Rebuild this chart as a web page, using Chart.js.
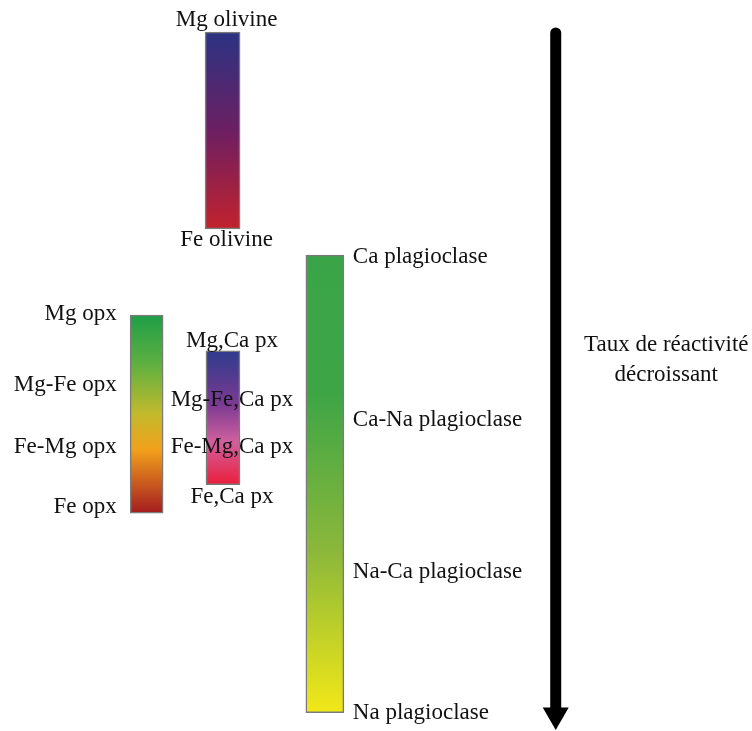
<!DOCTYPE html>
<html>
<head>
<meta charset="utf-8">
<script src="https://cdn.jsdelivr.net/npm/chart.js@4.4.1/dist/chart.umd.min.js"></script>
<style>
    html, body { margin: 0; padding: 0; background: #ffffff; }
    #wrap { position: relative; width: 752px; height: 731px; }
</style>
</head>
<body>
<div id="wrap"><canvas id="bowenChart"></canvas></div>
<script>
// position across the page (0-100) and reactivity range (0 = most reactive, 100 = least)
const columns = { opx: 19.5, olivine: 29.6, cpx: 29.65, plagioclase: 43.2, arrow: 73.9, note: 88.6 };

const olivineRange = [4.4, 31.3];
const opxRange = [43.1, 70.2];
const cpxRange = [48.0, 66.3];
const plagioclaseRange = [34.9, 97.5];
const arrowRange = [4.5, 97.8];

const olivineLabels = ["Mg olivine", "Fe olivine"];
const olivineLabelPos = [2.7, 32.8];

const opxLabels = ["Mg opx", "Mg-Fe opx", "Fe-Mg opx", "Fe opx"];
const opxLabelPos = [43.0, 52.7, 61.1, 69.4];

const cpxLabels = ["Mg,Ca px", "Mg-Fe,Ca px", "Fe-Mg,Ca px", "Fe,Ca px"];
const cpxLabelPos = [46.7, 54.7, 61.1, 68.0];

const plagioclaseLabels = ["Ca plagioclase", "Ca-Na plagioclase", "Na-Ca plagioclase", "Na plagioclase"];
const plagioclaseLabelPos = [35.2, 57.4, 78.3, 97.5];

const noteLines = ["Taux de réactivité", "décroissant"];
const noteLinePos = [47.2, 51.3];

// gradient stops, top to bottom
const olivineColors = [[0, "#2b3383"], [0.5, "#6c1f62"], [1, "#c2222d"]];
const opxColors = [[0, "#1e9e48"], [0.25, "#5fb040"], [0.5, "#c3ba2c"], [0.68, "#f2a01c"], [1, "#a41c20"]];
const cpxColors = [[0, "#2e3b8c"], [0.4, "#7b3a92"], [0.68, "#d0609e"], [1, "#ec1e3c"]];
const plagioclaseColors = [[0, "#3aa548"], [0.3, "#3da546"], [0.65, "#8cb83a"], [1, "#f2e818"]];

const FONT = "23px 'Liberation Serif', 'Times New Roman', serif";

function gradientFill(stops) {
    return (context) => {
        const chart = context.chart;
        if (!chart.chartArea) {
            return stops[0][1];
        }
        const raw = context.raw;
        const y = chart.scales.y;
        const top = y.getPixelForValue(raw.y[0]);
        const bottom = y.getPixelForValue(raw.y[1]);
        const g = chart.ctx.createLinearGradient(0, top, 0, bottom);
        stops.forEach((s) => g.addColorStop(s[0], s[1]));
        return g;
    };
}

function mineralBar(x, range, stops, thickness) {
    return {
        type: "bar",
        data: [{ x: x, y: range }],
        backgroundColor: gradientFill(stops),
        borderColor: "#7a7a7a",
        borderWidth: 1.5,
        borderSkipped: false,
        barThickness: thickness,
        grouped: false
    };
}

const labelPlugin = {
    id: "mineralLabels",
    afterDatasetsDraw(chart) {
        const ctx = chart.ctx;
        const xs = chart.scales.x;
        const ys = chart.scales.y;

        const groups = [
            { texts: olivineLabels, pos: olivineLabelPos, x: columns.olivine, dx: 4, align: "center" },
            { texts: opxLabels, pos: opxLabelPos, x: columns.opx, dx: -30, align: "right" },
            { texts: cpxLabels, pos: cpxLabelPos, x: columns.cpx, dx: 9, align: "center" },
            { texts: plagioclaseLabels, pos: plagioclaseLabelPos, x: columns.plagioclase, dx: 28, align: "left" },
            { texts: noteLines, pos: noteLinePos, x: columns.note, dx: 0, align: "center" }
        ];

        ctx.save();
        ctx.font = FONT;
        ctx.fillStyle = "#111111";
        ctx.textBaseline = "middle";

        groups.forEach((group) => {
            ctx.textAlign = group.align;
            group.texts.forEach((text, i) => {
                const px = xs.getPixelForValue(group.x) + group.dx;
                const py = ys.getPixelForValue(group.pos[i]);
                ctx.fillText(text, px, py);
            });
        });

        ctx.restore();
    }
};

const ctx = document.getElementById("bowenChart").getContext("2d");

new Chart(ctx, {
    type: "bar",
    data: {
        datasets: [
            mineralBar(columns.olivine, olivineRange, olivineColors, 35),
            mineralBar(columns.opx, opxRange, opxColors, 33),
            mineralBar(columns.cpx, cpxRange, cpxColors, 34),
            mineralBar(columns.plagioclase, plagioclaseRange, plagioclaseColors, 38),
            {
                type: "line",
                data: [
                    { x: columns.arrow, y: arrowRange[0] },
                    { x: columns.arrow, y: arrowRange[1] }
                ],
                borderColor: "#000000",
                borderWidth: 11,
                borderCapStyle: "round",
                pointRadius: [0, 15],
                pointStyle: "triangle",
                pointRotation: 180,
                pointBackgroundColor: "#000000",
                pointBorderWidth: 0,
                clip: false
            }
        ]
    },
    options: {
        responsive: true,
        maintainAspectRatio: false,
        animation: false,
        layout: { padding: 0, autoPadding: false },
        plugins: {
            legend: { display: false },
            tooltip: { enabled: false }
        },
        scales: {
            x: { type: "linear", min: 0, max: 100, offset: false, display: false },
            y: { type: "linear", min: 0, max: 100, reverse: true, beginAtZero: false, display: false }
        }
    },
    plugins: [labelPlugin]
});
</script>
</body>
</html>
